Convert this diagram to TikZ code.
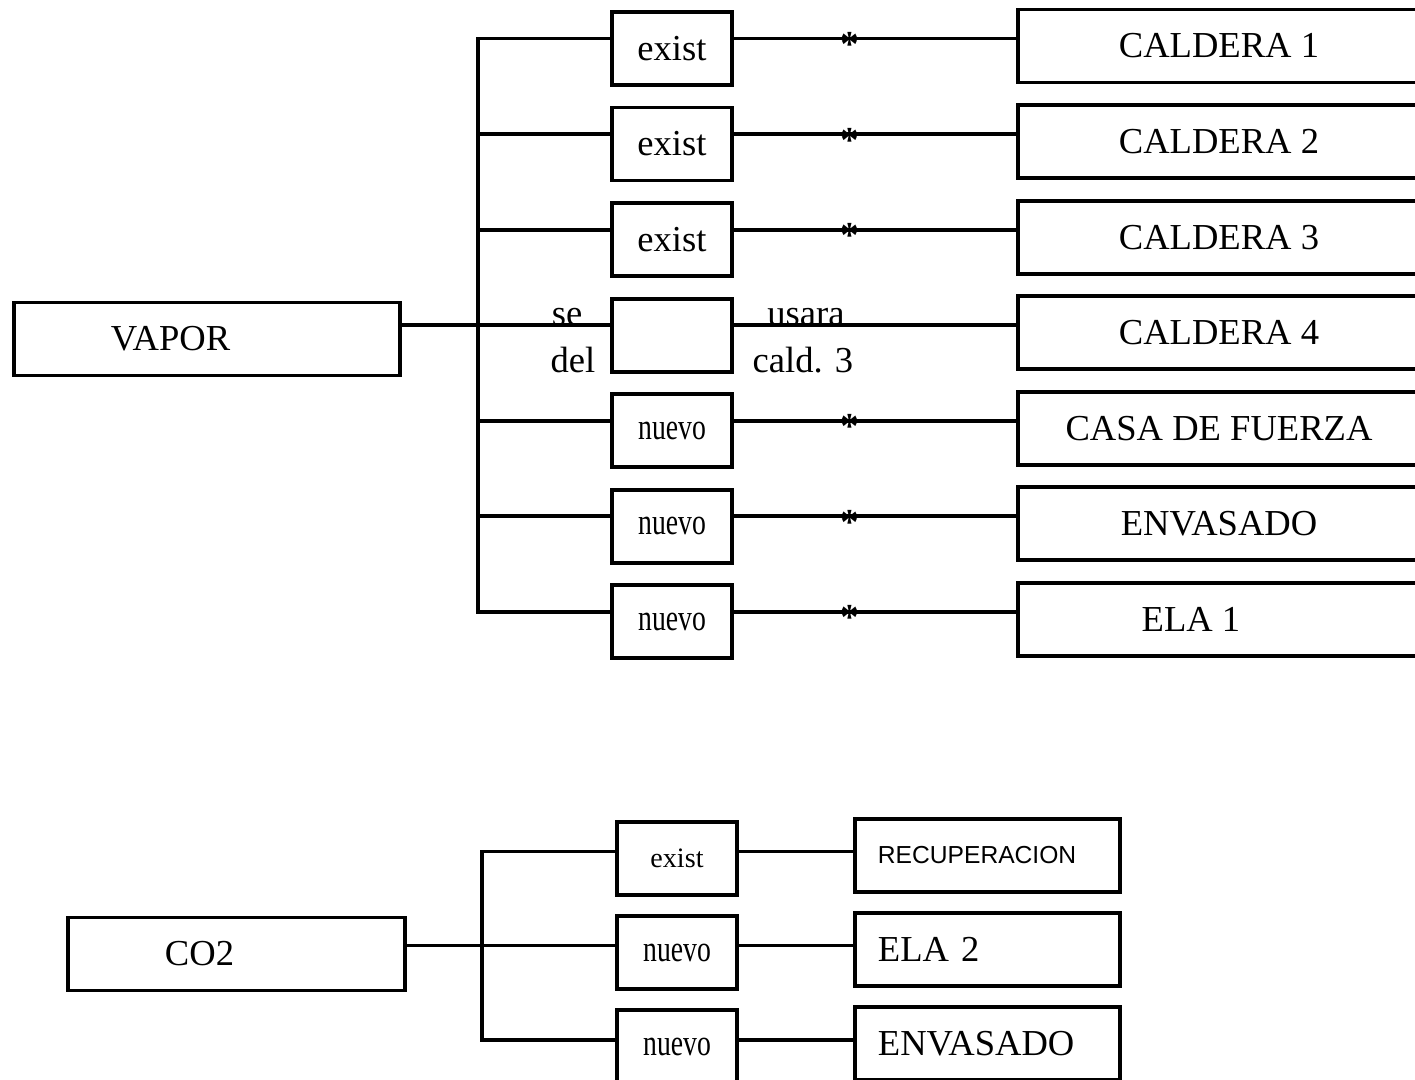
\documentclass[tikz,border=0pt]{standalone}
\usepackage{fontspec}
\setmainfont{Liberation Serif}
\newfontfamily\narrowserif[FakeStretch=0.75]{Liberation Serif}
\newfontfamily\plainsans{Liberation Sans}
\usetikzlibrary{positioning}

\begin{document}
\begin{tikzpicture}[x=0.01cm, y=-0.01cm, node distance=0.955cm,
    wire/.style={line width=1.1pt},
    box/.style={draw, rectangle, line width=1.1pt, inner sep=0pt, font=\fontsize{10.4}{12}\selectfont},
    midbox/.style={box, minimum width=1.2cm, minimum height=0.73cm},
    endbox/.style={box, minimum width=4.02cm, minimum height=0.73cm},
    srcbox/.style={box, minimum height=0.73cm, text width=#1, align=left, inner xsep=0.97cm},
    lowbox/.style={box, minimum height=0.73cm, text width=2.19cm, align=left, inner xsep=0.23cm},
    newtxt/.style={font=\narrowserif\fontsize{10.5}{12}\selectfont},
    lbl/.style={inner sep=0pt, font=\fontsize{10.4}{12}\selectfont},
    mark star/.style={inner sep=0pt, anchor=base, yshift=-1.8mm, font=\bfseries\fontsize{10.4}{12}\selectfont}]

    \useasboundingbox (0,0) rectangle (1415,1080);
    \clip (0,0) rectangle (1415,1080);

    % VAPOR
    \node [srcbox=1.92cm] (vapor) at (207,339) {VAPOR};

    \node [midbox] (m1) at (672,48.5) {exist};
    \node [midbox] (m2) [below of=m1] {exist};
    \node [midbox] (m3) [below of=m2] {exist};
    \node [midbox] (m4) [below of=m3] {};
    \node [midbox, newtxt] (m5) [below of=m4] {nuevo};
    \node [midbox, newtxt] (m6) [below of=m5] {nuevo};
    \node [midbox, newtxt] (m7) [below of=m6] {nuevo};

    \node [endbox] (c1) at (1219,46) {CALDERA 1};
    \node [endbox] (c2) [below of=c1] {CALDERA 2};
    \node [endbox] (c3) [below of=c2] {CALDERA 3};
    \node [endbox] (c4) [below of=c3] {CALDERA 4};
    \node [endbox] (c5) [below of=c4] {CASA DE FUERZA};
    \node [endbox] (c6) [below of=c5] {ENVASADO};
    \node [endbox] (c7) [below of=c6] {\hspace*{-0.56cm}ELA 1};

    \node [lbl] (se) at (567,317) {se};
    \node [lbl] (del) at (573,360) {del};
    \node [lbl] (usara) at (806,317) {usara};
    \node [lbl] (cald) at (803,360) {cald. 3};

    \coordinate (bus) at (478,0);
    \foreach \i in {1,...,7}
        \coordinate (r\i) at ([yshift=1mm]m\i.west -| bus);

    \draw[wire] (vapor.east |- r4) -- (r4);
    \draw[wire] ([yshift=1mm]m1.west) -| (r7) -- ([yshift=1mm]m7.west);
    \foreach \i in {2,...,6}
        \draw[wire] (r\i) -- ([yshift=1mm]m\i.west);

    \foreach \i in {1,2,3,5,6,7}
        \draw[wire] ([yshift=1mm]m\i.east) -- node[pos=0.41, mark star] {*} ([yshift=1mm]m\i.east -| c\i.west);
    \draw[wire] ([yshift=1mm]m4.east) -- ([yshift=1mm]m4.east -| c4.west);

    % CO2
    \begin{scope}[node distance=0.94cm]
    \node [srcbox=1.43cm] (co2) at (236.5,954) {CO2};

    \node [midbox, font=\fontsize{8}{10}\selectfont] (n1) at (677,858.5) {exist};
    \node [midbox, newtxt] (n2) [below of=n1] {nuevo};
    \node [midbox, newtxt] (n3) [below of=n2] {nuevo};

    \node [lowbox, font=\plainsans\fontsize{7}{9}\selectfont] (d1) at (987.5,855.5) {RECUPERACION};
    \node [lowbox] (d2) [below of=d1] {ELA 2};
    \node [lowbox] (d3) [below of=d2] {ENVASADO};
    \end{scope}

    \coordinate (lbus) at (482,0);
    \foreach \i in {1,2,3}
        \coordinate (q\i) at ([yshift=0.7mm]n\i.west -| lbus);

    \draw[wire] (co2.east |- q2) -- (q2);
    \draw[wire] ([yshift=0.7mm]n1.west) -| (q3) -- ([yshift=0.7mm]n3.west);
    \draw[wire] (q2) -- ([yshift=0.7mm]n2.west);
    \foreach \i in {1,2,3}
        \draw[wire] ([yshift=0.7mm]n\i.east) -- ([yshift=0.7mm]n\i.east -| d\i.west);

\end{tikzpicture}
\end{document}
